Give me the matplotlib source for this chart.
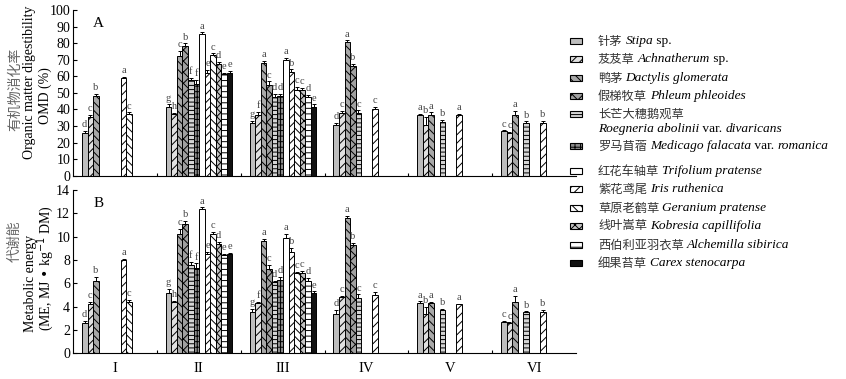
import numpy as np
import matplotlib
matplotlib.use('Agg')
import matplotlib.pyplot as plt
from matplotlib.patches import Rectangle

plt.rcParams['font.family'] = ['Liberation Serif', 'Noto Sans CJK SC']
plt.rcParams['hatch.linewidth'] = 0.7
CJK = ['Noto Sans CJK SC', 'DejaVu Sans']

groups = ['I', 'II', 'III', 'IV', 'V', 'VI']

species_cn = ['针茅', '芨芨草', '鸭茅', '假梯牧草', '长芒大穗鹅观草', '罗马苜蓿',
              '红花车轴草', '紫花鸢尾', '草原老鹤草', '线叶嵩草', '西伯利亚羽衣草', '细果苔草']
# latin name pieces: (text, italic)
species_lat = [
    [('Stipa', True), (' sp.', False)],
    [('Achnatherum', True), (' sp.', False)],
    [('Dactylis glomerata', True)],
    [('Phleum phleoides', True)],
    [('Roegneria abolinii', True), (' var. ', False), ('divaricans', True)],
    [('Medicago falacata', True), (' var. ', False), ('romanica', True)],
    [('Trifolium pratense', True)],
    [('Iris ruthenica', True)],
    [('Geranium pratense', True)],
    [('Kobresia capillifolia', True)],
    [('Alchemilla sibirica', True)],
    [('Carex stenocarpa', True)],
]

nan = np.nan
# organic matter digestibility (%), rows = groups, cols = species
omd = [
    [26.0, 35.5, 48.0, nan, nan, nan, nan, 58.8, 37.2, nan, nan, nan],
    [41.6, 37.0, 72.2, 78.3, 57.5, 55.2, 85.5, 62.2, 72.6, 67.2, 61.2, 62.0],
    [31.6, 36.6, 68.2, 54.7, 47.5, 48.0, 69.6, 62.6, 51.8, 51.8, 47.5, 41.5],
    [30.5, 38.0, 80.5, 66.4, 38.0, nan, nan, 40.2, nan, nan, nan, nan],
    [36.5, 30.5, 36.5, nan, 32.5, nan, nan, 36.5, nan, nan, nan, nan],
    [26.8, 26.0, 36.6, nan, 31.8, nan, nan, 31.8, nan, nan, nan, nan],
]
omd_err = [
    [1.0, 1.2, 1.5, 0, 0, 0, 0, 0.8, 1.0, 0, 0, 0],
    [1.5, 1.0, 3.0, 1.5, 1.5, 2.5, 1.0, 1.5, 1.2, 1.5, 1.0, 1.2],
    [1.5, 2.0, 1.2, 2.2, 2.0, 1.5, 1.5, 1.5, 2.0, 1.2, 1.5, 1.5],
    [1.5, 1.0, 1.2, 1.0, 1.5, 0, 0, 1.2, 0, 0, 0, 0],
    [1.0, 5.0, 1.8, 0, 1.2, 0, 0, 0.8, 0, 0, 0, 0],
    [0.5, 0.5, 2.5, 0, 1.0, 0, 0, 1.2, 0, 0, 0, 0],
]
omd_sig = ['dcb....ac...', 'ghcbffaecdee', 'gfacddabccde',
           'dcabc..c....', 'aba.b..a....', 'cca.b..b....']

# metabolic energy (MJ/kg DM)
me = [
    [2.6, 4.2, 6.2, nan, nan, nan, nan, 8.0, 4.4, nan, nan, nan],
    [5.2, 4.4, 10.2, 11.1, 7.6, 7.3, 12.4, 8.5, 10.2, 9.4, 8.4, 8.5],
    [3.5, 4.3, 9.6, 7.2, 6.1, 6.3, 9.9, 8.7, 6.9, 6.9, 6.2, 5.2],
    [3.4, 4.8, 11.6, 9.3, 4.7, nan, nan, 5.0, nan, nan, nan, nan],
    [4.3, 3.4, 4.3, nan, 3.7, nan, nan, 4.2, nan, nan, nan, nan],
    [2.7, 2.6, 4.4, nan, 3.5, nan, nan, 3.5, nan, nan, nan, nan],
]
me_err = [
    [0.15, 0.2, 0.35, 0, 0, 0, 0, 0.1, 0.15, 0, 0, 0],
    [0.3, 0.1, 0.45, 0.25, 0.25, 0.4, 0.1, 0.2, 0.2, 0.15, 0.15, 0.1],
    [0.3, 0.1, 0.2, 0.35, 0.1, 0.25, 0.35, 0.35, 0.1, 0.15, 0.25, 0.1],
    [0.35, 0.1, 0.15, 0.15, 0.35, 0, 0, 0.25, 0, 0, 0, 0],
    [0.15, 0.6, 0.1, 0, 0.1, 0, 0, 0.05, 0, 0, 0, 0],
    [0.05, 0.05, 0.55, 0, 0.1, 0, 0, 0.2, 0, 0, 0, 0],
]
me_sig = ['dcb....ac...', 'ghcbffaecdee', 'gfacddabccde',
          'dcabc..c....', 'aba.b..a....', 'cca.b..b....']

# bar looks per species
face = ['#bdbdbd', '#e0e0e0', '#a8a8a8', '#a0a0a0', '#d4d4d4', '#8c8c8c',
        'white', 'white', 'white', '#c4c4c4', 'white', '#111111']
hatch = [None, '////', '\\\\\\\\', 'xxx', '----', '+++',
         None, '////', '\\\\\\\\', 'xxxx', '---', None]

W, H = 846, 379
fig = plt.figure(figsize=(W / 100, H / 100), dpi=100)


def px(x, y):
    return x / W, 1 - y / H


nsp = len(species_cn)
bw = 0.795 / nsp
start = -0.5 + 0.107


def panel(ax, vals, errs, sigs, ymax, ystep, lab, lab_off, show_x):
    vals = np.array(vals)
    errs = np.array(errs)
    centers = np.arange(len(groups))
    for j in range(nsp):
        ok = ~np.isnan(vals[:, j])
        x = centers[ok] + start + (j + 0.5) * bw
        v = vals[ok, j]
        e = errs[ok, j]
        ax.bar(x, v, bw, color=face[j], hatch=hatch[j], edgecolor='black',
               linewidth=0.7, yerr=[np.zeros_like(e), e],
               error_kw=dict(ecolor='black', elinewidth=0.7, capsize=1.3, capthick=0.7))
        for xi, vi, ei, g in zip(x, v, e, centers[ok]):
            ax.text(xi, vi + ei + lab_off, sigs[g][j], ha='center', va='bottom',
                    fontsize=7.5, color='#444444')
    ax.set_xlim(-0.5, len(groups) - 0.5)
    ax.set_ylim(0, ymax)
    ax.set_yticks(np.arange(0, ymax + 0.1, ystep))
    ax.spines['top'].set_visible(False)
    ax.spines['right'].set_visible(False)
    ax.tick_params(axis='y', direction='in', length=3, labelsize=10, width=0.8, pad=2)
    ax.set_xticks(centers)
    ax.set_xticklabels(groups if show_x else [])
    ax.tick_params(axis='x', which='major', length=0, labelsize=10.5, pad=6)
    ax.set_xticks(centers[:-1] + 0.5, minor=True)
    ax.tick_params(axis='x', which='minor', direction='in', length=2, width=0.8)
    ax.text(0.04, 0.96, lab, transform=ax.transAxes, fontsize=11, va='top')


axA = fig.add_axes([73 / W, 1 - 175.7 / H, 503 / W, 165.7 / H])
axB = fig.add_axes([73 / W, 1 - 353.3 / H, 503 / W, 163.3 / H])
panel(axA, omd, omd_err, omd_sig, 100, 10, 'A', 1.0, False)
panel(axB, me, me_err, me_sig, 14, 2, 'B', 0.15, True)

# y-axis labels
fig.text(*px(15, 89), '有机物消化率', family=CJK, rotation=90, fontsize=10,
         color='#666666', ha='center', va='center')
fig.text(*px(30, 82), 'Organic matter digestibility', rotation=90, fontsize=10,
         ha='center', va='center')
fig.text(*px(45, 96), 'OMD (%)', rotation=90, fontsize=10, ha='center', va='center')
fig.text(*px(15, 241), '代谢能', family=CJK, rotation=90, fontsize=10,
         color='#666666', ha='center', va='center')
fig.text(*px(30, 283), 'Metabolic energy', rotation=90, fontsize=10,
         ha='center', va='center')
fig.text(*px(46, 268), '(ME, MJ • kg$^{-1}$ DM)', rotation=90, fontsize=10,
         ha='center', va='center')

# legend drawn by hand (mixed Chinese / italic latin)
renderer = fig.canvas.get_renderer()
leg_y = [41, 59, 78, 96, 114, 146, 171, 189, 208, 226, 245, 263]
for j in range(nsp):
    y = leg_y[j]
    fig.add_artist(Rectangle(px(570, y + 3), 12 / W, 6 / H, transform=fig.transFigure,
                             facecolor=face[j], hatch=hatch[j], edgecolor='black',
                             linewidth=0.8))
    t = fig.text(*px(598, y), species_cn[j], family=CJK, fontsize=8.8,
                 va='center', ha='left', color='#333333')
    x = t.get_window_extent(renderer).x1 + 3
    yy = y
    if j == 4:
        x = 598
        yy = y + 15
    for k, (s, it) in enumerate(species_lat[j]):
        t = fig.text(x / W, 1 - yy / H, s, fontsize=9.6, va='center', ha='left',
                     style='italic' if it else 'normal')
        x = t.get_window_extent(renderer).x1

fig.savefig('out.png', dpi=100)
